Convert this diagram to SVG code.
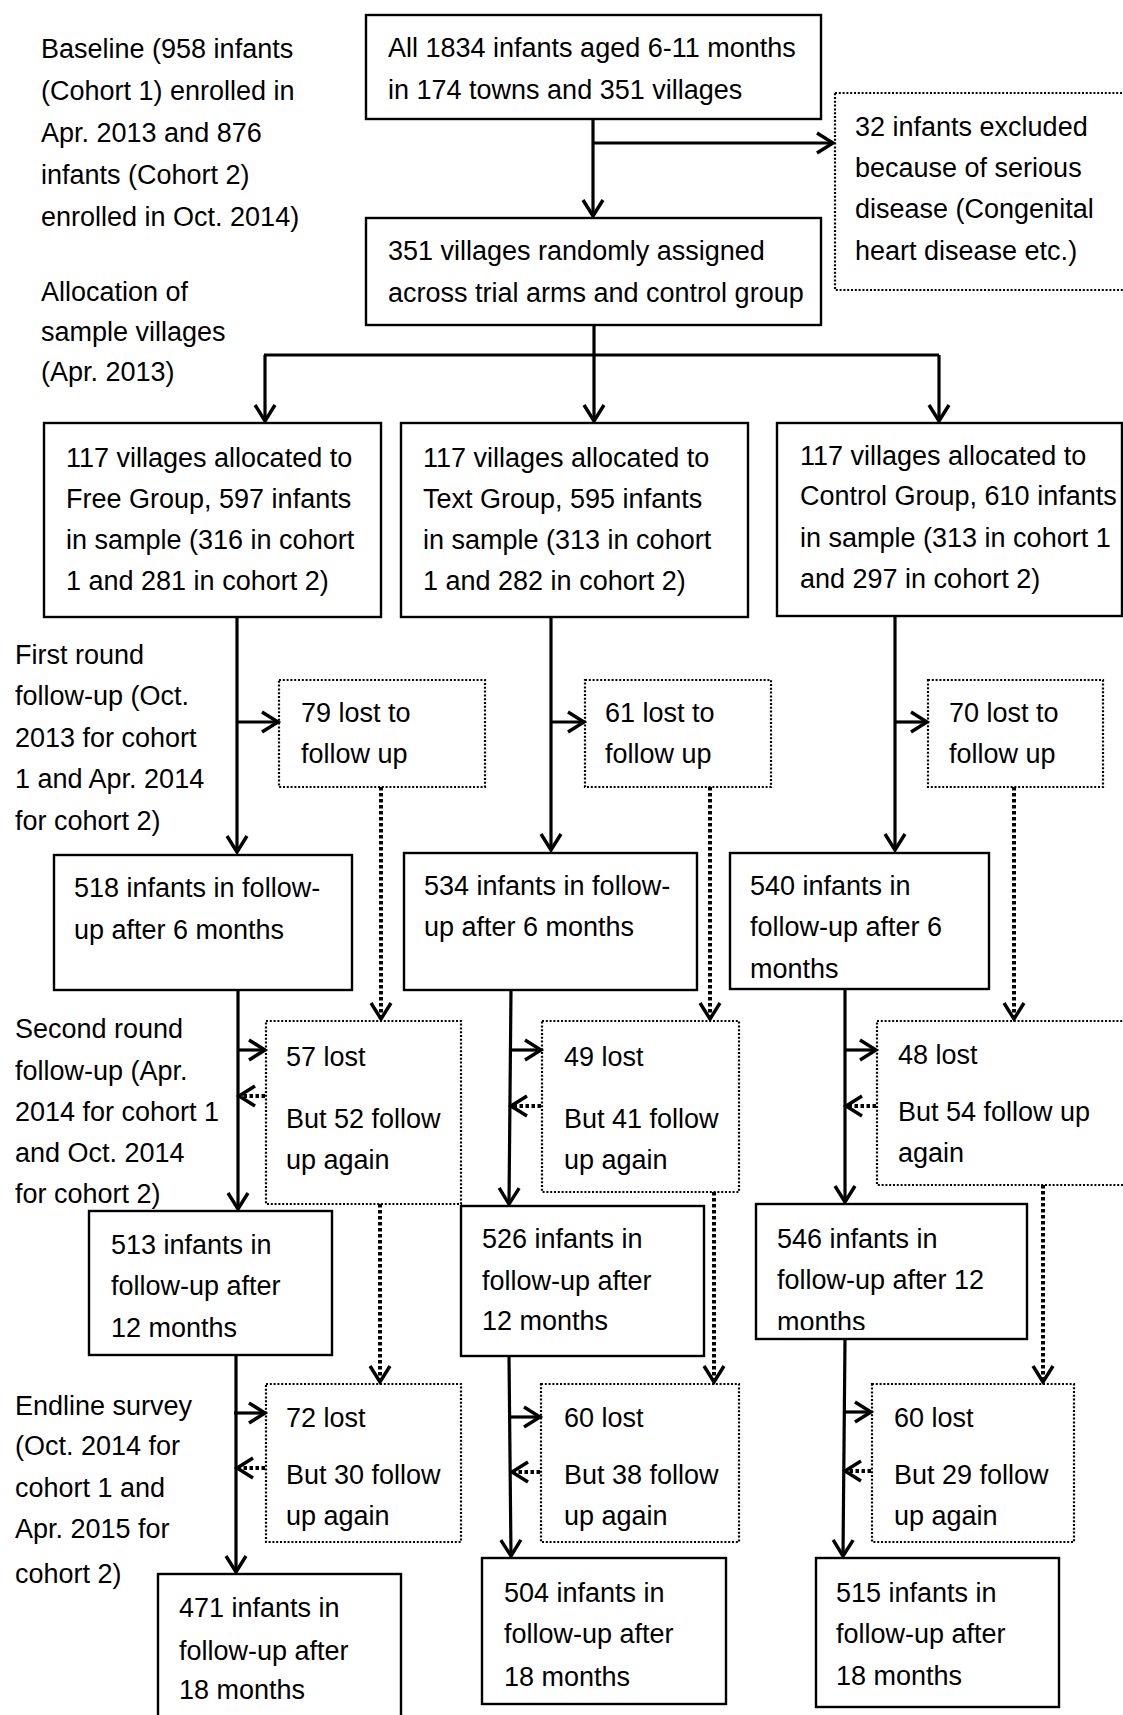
<svg xmlns="http://www.w3.org/2000/svg" width="1123" height="1715" viewBox="0 0 1123 1715">
<style>
text{font-family:"Liberation Sans",Arial,Helvetica,sans-serif;font-size:27px;fill:#000}
.box{fill:#fff;stroke:#000;stroke-width:2.4}
.dbox{fill:#fff;stroke:#000;stroke-width:2.2;stroke-dasharray:2 1.8}
.ln{fill:none;stroke:#000;stroke-width:3.2}
.dl{fill:none;stroke:#000;stroke-width:4;stroke-dasharray:3.5 2.5}
</style>
<defs>
<marker id="ah" markerUnits="userSpaceOnUse" markerWidth="26" markerHeight="26" viewBox="-22 -13 26 26" refX="0" refY="0" orient="auto" overflow="visible">
<path d="M-16,-10 L0,0 L-16,10" fill="none" stroke="#000" stroke-width="3.4"/>
</marker>
<clipPath id="clip546"><rect x="756" y="1204" width="271" height="126"/></clipPath>
</defs>
<rect width="1123" height="1715" fill="#fff"/>

<g id="labels">
<text id="lbl-baseline"><tspan x="41" y="58">Baseline (958 infants</tspan><tspan x="41" y="100">(Cohort 1) enrolled in</tspan><tspan x="41" y="142">Apr. 2013 and 876</tspan><tspan x="41" y="184">infants (Cohort 2)</tspan><tspan x="41" y="226">enrolled in Oct. 2014)</tspan></text>
<text id="lbl-allocation"><tspan x="41" y="301">Allocation of</tspan><tspan x="41" y="341">sample villages</tspan><tspan x="41" y="381">(Apr. 2013)</tspan></text>
<text id="lbl-first"><tspan x="15" y="664">First round</tspan><tspan x="15" y="705">follow-up (Oct.</tspan><tspan x="15" y="747">2013 for cohort</tspan><tspan x="15" y="788">1 and Apr. 2014</tspan><tspan x="15" y="830">for cohort 2)</tspan></text>
<text id="lbl-second"><tspan x="15" y="1038">Second round</tspan><tspan x="15" y="1080">follow-up (Apr.</tspan><tspan x="15" y="1121">2014 for cohort 1</tspan><tspan x="15" y="1162">and Oct. 2014</tspan><tspan x="15" y="1203">for cohort 2)</tspan></text>
<text id="lbl-endline"><tspan x="15" y="1415">Endline survey</tspan><tspan x="15" y="1455">(Oct. 2014 for</tspan><tspan x="15" y="1497">cohort 1 and</tspan><tspan x="15" y="1538">Apr. 2015 for</tspan><tspan x="15" y="1583">cohort 2)</tspan></text>
</g>

<g id="n-all">
<rect class="box" x="366" y="15" width="455" height="104"/>
<text><tspan x="388" y="57">All 1834 infants aged 6-11 months</tspan><tspan x="388" y="99">in 174 towns and 351 villages</tspan></text>
</g>
<g id="n-excluded">
<rect class="dbox" x="835" y="93" width="300" height="197"/>
<text><tspan x="855" y="136">32 infants excluded</tspan><tspan x="855" y="177">because of serious</tspan><tspan x="855" y="218">disease (Congenital</tspan><tspan x="855" y="260">heart disease etc.)</tspan></text>
</g>
<g id="n-random">
<rect class="box" x="366" y="218" width="455" height="107"/>
<text><tspan x="388" y="260">351 villages randomly assigned</tspan><tspan x="388" y="302">across trial arms and control group</tspan></text>
</g>

<g id="n-free">
<rect class="box" x="44" y="423" width="337" height="194"/>
<text><tspan x="66" y="467">117 villages allocated to</tspan><tspan x="66" y="508">Free Group, 597 infants</tspan><tspan x="66" y="549">in sample (316 in cohort</tspan><tspan x="66" y="590">1 and 281 in cohort 2)</tspan></text>
</g>
<g id="n-text">
<rect class="box" x="401" y="423" width="347" height="194"/>
<text><tspan x="423" y="467">117 villages allocated to</tspan><tspan x="423" y="508">Text Group, 595 infants</tspan><tspan x="423" y="549">in sample (313 in cohort</tspan><tspan x="423" y="590">1 and 282 in cohort 2)</tspan></text>
</g>
<g id="n-control">
<rect class="box" x="777" y="423" width="345" height="193"/>
<text><tspan x="800" y="465">117 villages allocated to</tspan><tspan x="800" y="505">Control Group, 610 infants</tspan><tspan x="800" y="547">in sample (313 in cohort 1</tspan><tspan x="800" y="588">and 297 in cohort 2)</tspan></text>
</g>

<g id="n-lost79">
<rect class="dbox" x="279" y="680" width="206" height="107"/>
<text><tspan x="301" y="722">79 lost to</tspan><tspan x="301" y="763">follow up</tspan></text>
</g>
<g id="n-lost61">
<rect class="dbox" x="585" y="680" width="186" height="107"/>
<text><tspan x="605" y="722">61 lost to</tspan><tspan x="605" y="763">follow up</tspan></text>
</g>
<g id="n-lost70">
<rect class="dbox" x="928" y="680" width="175" height="107"/>
<text><tspan x="949" y="722">70 lost to</tspan><tspan x="949" y="763">follow up</tspan></text>
</g>

<g id="n-518">
<rect class="box" x="54" y="855" width="298" height="135"/>
<text><tspan x="74" y="897">518 infants in follow-</tspan><tspan x="74" y="939">up after 6 months</tspan></text>
</g>
<g id="n-534">
<rect class="box" x="404" y="853" width="293" height="137"/>
<text><tspan x="424" y="895">534 infants in follow-</tspan><tspan x="424" y="936">up after 6 months</tspan></text>
</g>
<g id="n-540">
<rect class="box" x="730" y="853" width="259" height="136"/>
<text><tspan x="750" y="895">540 infants in</tspan><tspan x="750" y="936">follow-up after 6</tspan><tspan x="750" y="978">months</tspan></text>
</g>

<g id="n-lost57">
<rect class="dbox" x="266" y="1021" width="195" height="183"/>
<text><tspan x="286" y="1066">57 lost</tspan><tspan x="286" y="1128">But 52 follow</tspan><tspan x="286" y="1169">up again</tspan></text>
</g>
<g id="n-lost49">
<rect class="dbox" x="542" y="1021" width="197" height="171"/>
<text><tspan x="564" y="1066">49 lost</tspan><tspan x="564" y="1128">But 41 follow</tspan><tspan x="564" y="1169">up again</tspan></text>
</g>
<g id="n-lost48">
<rect class="dbox" x="877" y="1021" width="250" height="164"/>
<text><tspan x="898" y="1064">48 lost</tspan><tspan x="898" y="1121">But 54 follow up</tspan><tspan x="898" y="1162">again</tspan></text>
</g>

<g id="n-513">
<rect class="box" x="89" y="1211" width="243" height="144"/>
<text><tspan x="111" y="1254">513 infants in</tspan><tspan x="111" y="1295">follow-up after</tspan><tspan x="111" y="1337">12 months</tspan></text>
</g>
<g id="n-526">
<rect class="box" x="461" y="1206" width="243" height="150"/>
<text><tspan x="482" y="1248">526 infants in</tspan><tspan x="482" y="1290">follow-up after</tspan><tspan x="482" y="1330">12 months</tspan></text>
</g>
<g id="n-546">
<rect class="box" x="756" y="1204" width="271" height="135"/>
<text clip-path="url(#clip546)"><tspan x="777" y="1248">546 infants in</tspan><tspan x="777" y="1289">follow-up after 12</tspan><tspan x="777" y="1331">months</tspan></text>
</g>

<g id="n-lost72">
<rect class="dbox" x="266" y="1384" width="195" height="158"/>
<text><tspan x="286" y="1427">72 lost</tspan><tspan x="286" y="1484">But 30 follow</tspan><tspan x="286" y="1525">up again</tspan></text>
</g>
<g id="n-lost60a">
<rect class="dbox" x="541" y="1384" width="198" height="158"/>
<text><tspan x="564" y="1427">60 lost</tspan><tspan x="564" y="1484">But 38 follow</tspan><tspan x="564" y="1525">up again</tspan></text>
</g>
<g id="n-lost60b">
<rect class="dbox" x="872" y="1384" width="202" height="158"/>
<text><tspan x="894" y="1427">60 lost</tspan><tspan x="894" y="1484">But 29 follow</tspan><tspan x="894" y="1525">up again</tspan></text>
</g>

<g id="n-471">
<rect class="box" x="158" y="1574" width="243" height="160"/>
<text><tspan x="179" y="1617">471 infants in</tspan><tspan x="179" y="1660">follow-up after</tspan><tspan x="179" y="1699">18 months</tspan></text>
</g>
<g id="n-504">
<rect class="box" x="482" y="1558" width="244" height="146"/>
<text><tspan x="504" y="1602">504 infants in</tspan><tspan x="504" y="1643">follow-up after</tspan><tspan x="504" y="1686">18 months</tspan></text>
</g>
<g id="n-515">
<rect class="box" x="816" y="1558" width="243" height="149"/>
<text><tspan x="836" y="1602">515 infants in</tspan><tspan x="836" y="1643">follow-up after</tspan><tspan x="836" y="1685">18 months</tspan></text>
</g>

<g id="connectors">
<path class="ln" d="M593,119 V216" marker-end="url(#ah)"/>
<path class="ln" d="M593,143 H833" marker-end="url(#ah)"/>
<path class="ln" d="M594,325 V355"/>
<path class="ln" d="M264,355 H939"/>
<path class="ln" d="M265,355 V421" marker-end="url(#ah)"/>
<path class="ln" d="M594,355 V421" marker-end="url(#ah)"/>
<path class="ln" d="M939,355 V421" marker-end="url(#ah)"/>

<path class="ln" d="M237,617 V852" marker-end="url(#ah)"/>
<path class="ln" d="M237,722 H278" marker-end="url(#ah)"/>
<path class="ln" d="M551,617 V850" marker-end="url(#ah)"/>
<path class="ln" d="M551,722 H584" marker-end="url(#ah)"/>
<path class="ln" d="M895,616 V850" marker-end="url(#ah)"/>
<path class="ln" d="M895,722 H927" marker-end="url(#ah)"/>

<path class="dl" d="M381,787 V1019" marker-end="url(#ah)"/>
<path class="dl" d="M710,787 V1019" marker-end="url(#ah)"/>
<path class="dl" d="M1014,787 V1019" marker-end="url(#ah)"/>

<path class="ln" d="M238,990 V1209" marker-end="url(#ah)"/>
<path class="ln" d="M238,1050 H265" marker-end="url(#ah)"/>
<path class="dl" d="M265,1096 H239" marker-end="url(#ah)"/>
<path class="ln" d="M511,990 L509,1204" marker-end="url(#ah)"/>
<path class="ln" d="M510,1050 H541" marker-end="url(#ah)"/>
<path class="dl" d="M541,1106 H511" marker-end="url(#ah)"/>
<path class="ln" d="M845,989 V1202" marker-end="url(#ah)"/>
<path class="ln" d="M845,1050 H876" marker-end="url(#ah)"/>
<path class="dl" d="M876,1106 H846" marker-end="url(#ah)"/>

<path class="dl" d="M380,1204 V1382" marker-end="url(#ah)"/>
<path class="dl" d="M714,1192 V1382" marker-end="url(#ah)"/>
<path class="dl" d="M1043,1185 V1382" marker-end="url(#ah)"/>

<path class="ln" d="M236,1355 V1572" marker-end="url(#ah)"/>
<path class="ln" d="M234,1413 H265" marker-end="url(#ah)"/>
<path class="dl" d="M265,1468 H237" marker-end="url(#ah)"/>
<path class="ln" d="M509,1356 L511,1556" marker-end="url(#ah)"/>
<path class="ln" d="M510,1417 H540" marker-end="url(#ah)"/>
<path class="dl" d="M540,1472 H512" marker-end="url(#ah)"/>
<path class="ln" d="M845,1339 L843,1556" marker-end="url(#ah)"/>
<path class="ln" d="M844,1412 H871" marker-end="url(#ah)"/>
<path class="dl" d="M871,1471 H845" marker-end="url(#ah)"/>
</g>
</svg>
